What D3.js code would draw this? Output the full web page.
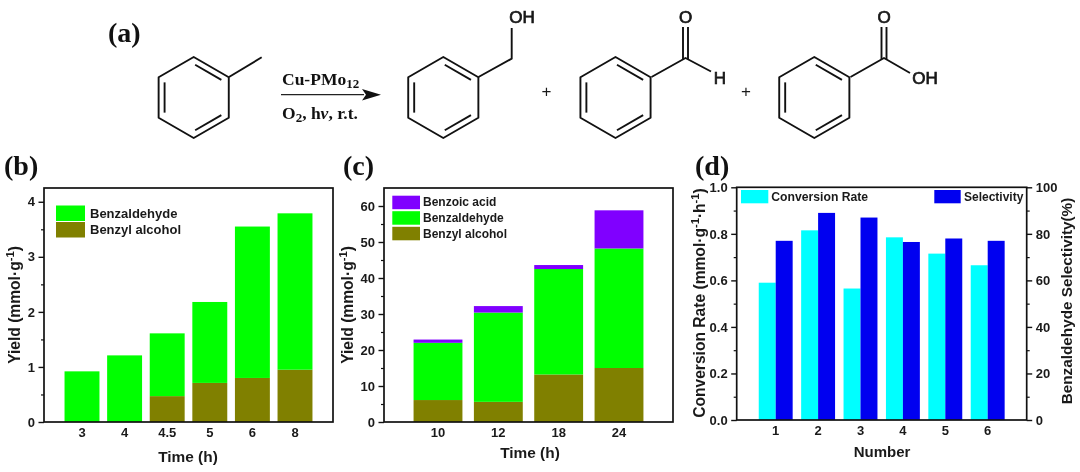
<!DOCTYPE html>
<html><head><meta charset="utf-8">
<script src="https://cdnjs.cloudflare.com/ajax/libs/d3/7.8.5/d3.min.js"></script>
<style>
html,body{margin:0;padding:0;background:#fff;overflow:hidden}
svg{display:block;filter:blur(0.35px)}
text{font-family:"Liberation Sans",Arial,sans-serif;font-weight:bold;fill:#1a1a1a}
.serif{font-family:"Liberation Serif","Times New Roman",serif;fill:#111}
</style></head><body>
<svg id="c" width="1080" height="472"></svg>
<script>
// Panel (b)
const timesB = ["3","4","4.5","5","6","8"];
const alcoholB = [0,0,0.47,0.71,0.80,0.95];
const aldehydeB = [0.92,1.21,1.14,1.47,2.75,2.84];
// Panel (c)
const timesC = ["10","12","18","24"];
const alcoholC = [6.1,5.6,13.2,15.0];
const aldehydeC = [15.9,24.8,29.3,33.2];
const acidC = [0.9,1.8,1.1,10.6];
// Panel (d)
const numbersD = ["1","2","3","4","5","6"];
const conversionD = [0.59,0.815,0.565,0.785,0.715,0.665];
const selectivityD = [77,89,87,76.5,78,77];

const GREEN="#00ff00",OLIVE="#808000",PURPLE="#8000ff",CYAN="#00ffff",BLUE="#0000f0";
const svg=d3.select("#c");

function frame(g,x0,x1,y0,y1){
  g.append("rect").attr("x",x0).attr("y",y0).attr("width",x1-x0).attr("height",y1-y0)
   .attr("fill","none").attr("stroke","#111").attr("stroke-width",1.7);
}
function yAxes(g,scale,x,major,minor,side,size){
  const mk=side==="left"?d3.axisLeft:d3.axisRight;
  const a=g.append("g").attr("transform",`translate(${x},0)`)
    .call(mk(scale).tickValues(major).tickSize(5.5).tickPadding(3.5).tickFormat(d=>size.fmt?size.fmt(d):d));
  a.select(".domain").remove();
  a.selectAll("line").attr("stroke","#111").attr("stroke-width",1.4);
  a.selectAll("text").attr("font-size",size.fs);
  const m=g.append("g").attr("transform",`translate(${x},0)`)
    .call(mk(scale).tickValues(minor).tickSize(3).tickFormat(""));
  m.select(".domain").remove();
  m.selectAll("line").attr("stroke","#111").attr("stroke-width",1.2);
}
function xAxis(g,scale,y,fs){
  const a=g.append("g").attr("transform",`translate(0,${y})`)
    .call(d3.axisBottom(scale).tickSize(0).tickPadding(5.5));
  a.select(".domain").remove();
  a.selectAll("text").attr("font-size",fs);
}
function title(g,txt,x,y,fs){
  g.append("text").attr("x",x).attr("y",y).attr("text-anchor","middle").attr("dominant-baseline","central").attr("font-size",fs).text(txt);
}
function vtitle(g,parts,x,y,fs){
  const t=g.append("text").attr("transform",`translate(${x},${y}) rotate(-90)`).attr("text-anchor","middle").attr("dominant-baseline","central").attr("font-size",fs);
  parts.forEach(p=>{
    const s=t.append("tspan").text(p.t);
    if(p.sup) s.attr("font-size",fs*0.72).attr("baseline-shift","35%");
  });
}
function legend(g,items,x,w,h,tx,fs){
  items.forEach(d=>{
    g.append("rect").attr("x",x).attr("y",d.y).attr("width",w).attr("height",h).attr("fill",d.c);
    g.append("text").attr("x",tx).attr("y",d.y+h/2).attr("dominant-baseline","central").attr("font-size",fs).text(d.t);
  });
}
function stacked(g,cats,layers,colors,x,y){
  const rows=cats.map((c,i)=>{const r={c};layers.forEach((l,j)=>r["s"+j]=l[i]);return r;});
  const st=d3.stack().keys(layers.map((_,j)=>"s"+j))(rows);
  st.forEach((s,j)=>{
    g.append("g").selectAll("rect").data(s).join("rect")
      .attr("x",d=>x(d.data.c)).attr("width",x.bandwidth())
      .attr("y",d=>y(d[1])).attr("height",d=>y(d[0])-y(d[1])).attr("fill",colors[j]);
  });
}

// ---- (a) reaction scheme
const S=svg.append("g").attr("fill","none").attr("stroke","#111").attr("stroke-width",1.9).attr("stroke-linejoin","round");
function ring(cx){
  const cy=97.5,R=40.5,pts=d3.range(6).map(i=>{const a=(-90+60*i)*Math.PI/180;return [cx+R*Math.cos(a),cy+R*Math.sin(a)];});
  S.append("path").attr("d","M"+pts.join("L")+"Z");
  [[0,1],[2,3],[4,5]].forEach(([a,b])=>{
    const f=.83,sh=.05,p=[pts[a],pts[b]].map(q=>[cx+(q[0]-cx)*f,cy+(q[1]-cy)*f]);
    const dx=p[1][0]-p[0][0],dy=p[1][1]-p[0][1];
    S.append("line").attr("x1",p[0][0]+dx*sh).attr("y1",p[0][1]+dy*sh).attr("x2",p[1][0]-dx*sh).attr("y2",p[1][1]-dy*sh);
  });
}
function bond(pts){S.append("path").attr("d","M"+pts.join("L"));}
[193.7,443.3,615.5,814.3].forEach(ring);
bond([[229,77],[261.7,57.3]]);
bond([[478.5,77],[511.7,58.7],[511.7,28]]);
bond([[651.5,77],[685.5,58],[711,71.5]]);
bond([[683,59],[683,27]]);bond([[688,59],[688,27]]);
bond([[850.5,77],[884,58],[910,73]]);
bond([[881.5,59],[881.5,27]]);bond([[886.5,59],[886.5,27]]);
function atom(t,x,y){svg.append("text").attr("x",x).attr("y",y).attr("text-anchor","middle").attr("dominant-baseline","central").attr("font-size",17).style("font-weight","normal").attr("stroke","#111").attr("stroke-width",.7).text(t);}
atom("OH",522,17);atom("O",685.5,17);atom("H",720,78);atom("O",884,17);atom("OH",925,78);
[546.5,746].forEach(px=>svg.append("text").attr("x",px).attr("y",91.5).attr("text-anchor","middle").attr("dominant-baseline","central").attr("font-size",17).style("font-weight","normal").text("+"));
svg.append("line").attr("x1",281).attr("x2",364).attr("y1",94.7).attr("y2",94.7).attr("stroke","#222").attr("stroke-width",1.2);
svg.append("path").attr("d","M362 89L381 94.7L362 100.5L366 94.7Z").attr("fill","#111");
const t1=svg.append("text").attr("class","serif").attr("x",282).attr("y",85).attr("font-size",17.5);
t1.append("tspan").text("Cu-PMo");t1.append("tspan").attr("font-size",13).attr("dy",3).text("12");
const t2=svg.append("text").attr("class","serif").attr("x",282).attr("y",119).attr("font-size",17.5);
t2.append("tspan").text("O");t2.append("tspan").attr("font-size",13).attr("dy",3).text("2");
t2.append("tspan").attr("dy",-3).text(", h");t2.append("tspan").attr("font-style","italic").text("v");t2.append("tspan").text(", r.t.");
[["(a)",108,42,28],["(b)",4,175,28],["(c)",343,175,28],["(d)",695,175,28]].forEach(d=>{
  svg.append("text").attr("class","serif").attr("x",d[1]).attr("y",d[2]).attr("font-size",d[3]).text(d[0]);
});

// ---- (b)
{
  const g=svg.append("g"),L=44,R=333,T=188,B=422;
  const x=d3.scaleBand().domain(timesB).range([L,R]).paddingInner(.18).paddingOuter(.482);
  const y=d3.scaleLinear().domain([0,4.25]).range([B,T]);
  stacked(g,timesB,[alcoholB,aldehydeB],[OLIVE,GREEN],x,y);
  legend(g,[{t:"Benzaldehyde",c:GREEN,y:205.5},{t:"Benzyl alcohol",c:OLIVE,y:222}],56,29,15.5,90,13);
  frame(g,L,R,T,B);
  yAxes(g,y,L,[0,1,2,3,4],[.5,1.5,2.5,3.5],"left",{fs:13});
  xAxis(g,x,B,13);
  title(g,"Time (h)",188,456,15.4);
  vtitle(g,[{t:"Yield (mmol·g"},{t:"-1",sup:1},{t:")"}],14,305,15.6);
}
// ---- (c)
{
  const g=svg.append("g"),L=384,R=673,T=188,B=422;
  const x=d3.scaleBand().domain(timesC).range([L,R]).paddingInner(.19).paddingOuter(.49);
  const y=d3.scaleLinear().domain([0,65]).range([B,T]);
  stacked(g,timesC,[alcoholC,aldehydeC,acidC],[OLIVE,GREEN,PURPLE],x,y);
  legend(g,[{t:"Benzoic acid",c:PURPLE,y:195.7},{t:"Benzaldehyde",c:GREEN,y:211.2},{t:"Benzyl alcohol",c:OLIVE,y:226.8}],392.3,27.7,13.5,423,12);
  frame(g,L,R,T,B);
  yAxes(g,y,L,[0,10,20,30,40,50,60],[5,15,25,35,45,55],"left",{fs:13});
  xAxis(g,x,B,13);
  title(g,"Time (h)",530,452.7,15.4);
  vtitle(g,[{t:"Yield (mmol·g"},{t:"-1",sup:1},{t:")"}],347,305,15.6);
}
// ---- (d)
{
  const g=svg.append("g"),L=736.7,R=1026.7,T=187.3,B=420;
  const x=d3.scaleBand().domain(numbersD).range([L,R]).paddingInner(.2).paddingOuter(.52);
  const xs=d3.scaleBand().domain(["c","s"]).range([0,x.bandwidth()]);
  const y=d3.scaleLinear().domain([0,1]).range([B,T]);
  const y2=d3.scaleLinear().domain([0,100]).range([B,T]);
  g.append("g").selectAll("rect").data(numbersD).join("rect")
    .attr("x",d=>x(d)+xs("c")).attr("width",xs.bandwidth())
    .attr("y",(d,i)=>y(conversionD[i])).attr("height",(d,i)=>B-y(conversionD[i])).attr("fill",CYAN);
  g.append("g").selectAll("rect").data(numbersD).join("rect")
    .attr("x",d=>x(d)+xs("s")).attr("width",xs.bandwidth())
    .attr("y",(d,i)=>y2(selectivityD[i])).attr("height",(d,i)=>B-y2(selectivityD[i])).attr("fill",BLUE);
  legend(g,[{t:"Conversion Rate",c:CYAN,y:190}],741,27.3,13.3,771.3,12.2);
  legend(g,[{t:"Selectivity",c:BLUE,y:190}],934.3,26.4,13.3,964,12);
  frame(g,L,R,T,B);
  yAxes(g,y,L,[0,.2,.4,.6,.8,1],[.1,.3,.5,.7,.9],"left",{fs:13,fmt:d3.format(".1f")});
  yAxes(g,y2,R,[0,20,40,60,80,100],[10,30,50,70,90],"right",{fs:13});
  xAxis(g,x,B,13);
  title(g,"Number",882,451.7,15);
  vtitle(g,[{t:"Conversion Rate (mmol·g"},{t:"-1",sup:1},{t:"·h"},{t:"-1",sup:1},{t:")"}],699.3,303,15.6);
  vtitle(g,[{t:"Benzaldehyde Selectivity(%)"}],1066,301,15.3);
}
</script></body></html>
